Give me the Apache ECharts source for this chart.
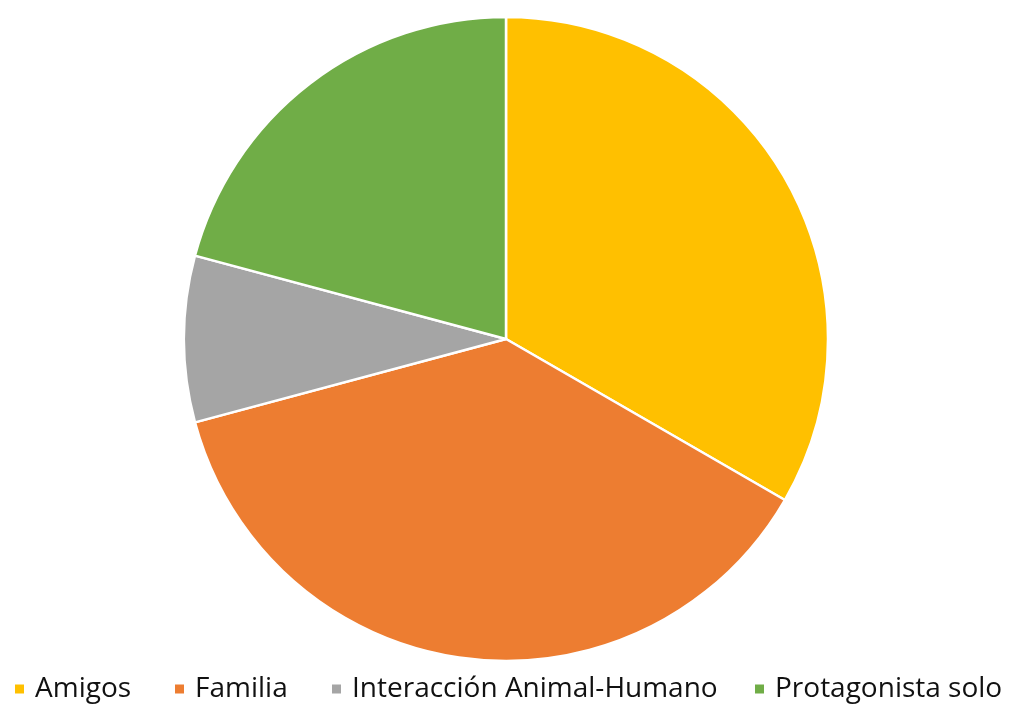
<!DOCTYPE html>
<html><head><meta charset="utf-8">
<script src="https://cdn.jsdelivr.net/npm/echarts@6/dist/echarts.min.js"></script>
<style>html,body{margin:0;padding:0;background:#fff}#c{width:1011px;height:704px}</style>
</head><body><div id="c"></div>
<script>
const categories = ['Amigos', 'Familia', 'Interacción Animal-Humano', 'Protagonista solo'];
const values = [8, 9, 2, 5];
const colors = ['#FFC000', '#ED7D31', '#A5A5A5', '#70AD47'];
const legendLefts = [13, 173, 330, 753];

const chart = echarts.init(document.getElementById('c'));
chart.setOption({
  animation: false,
  color: colors,
  legend: categories.map((name, i) => ({
    data: [name],
    left: legendLefts[i],
    top: 675,
    padding: 0,
    icon: 'rect',
    itemWidth: 11,
    itemHeight: 11,
    itemGap: 0,
    textStyle: { fontFamily: 'Open Sans', fontSize: 28, color: '#111111', padding: [0, 0, 0, 5] },
    selectedMode: false
  })),
  series: [{
    type: 'pie',
    center: [506, 339],
    radius: [0, 322],
    startAngle: 90,
    clockwise: true,
    label: { show: false },
    labelLine: { show: false },
    itemStyle: { borderColor: '#ffffff', borderWidth: 2.5 },
    emphasis: { disabled: true },
    data: categories.map((n, i) => ({ name: n, value: values[i] }))
  }]
});
</script></body></html>
